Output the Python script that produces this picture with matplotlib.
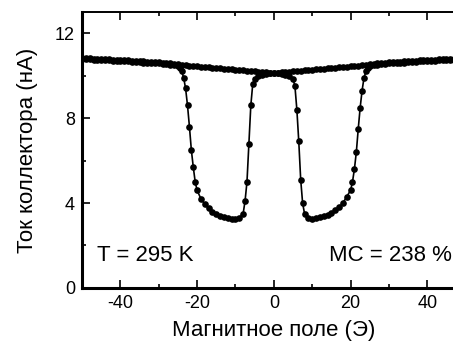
import matplotlib
matplotlib.use("Agg")
import matplotlib.pyplot as plt
from matplotlib.ticker import MultipleLocator

plt.rcParams['font.family'] = ['Liberation Sans', 'DejaVu Sans']
plt.rcParams['axes.unicode_minus'] = False

# sweep from +50 down to -50 Oe (dip on negative side)
field_down = [50, 49, 48, 47, 46, 45, 44, 43, 42, 41, 40, 39, 38, 37, 36, 35, 34, 33, 32, 31,
              30, 29, 28, 27, 26, 25, 24, 23, 22, 21, 20, 19, 18, 17, 16, 15, 14, 13, 12, 11,
              10, 9, 8, 7, 6, 5, 4, 3, 2, 1, 0, -1, -2, -3, -4, -5, -5.5, -6, -6.5, -7, -7.5,
              -8, -9, -10, -11, -12, -13, -14, -15, -16, -17, -18, -19, -20, -20.5, -21, -21.5,
              -22, -22.5, -23, -23.5, -24, -24.5, -25, -26, -27, -28, -29, -30, -31, -32, -33,
              -34, -35, -36, -37, -38, -39, -40, -41, -42, -43, -44, -45, -46, -47, -48, -49, -50]
current_down = [10.85, 10.83, 10.82, 10.81, 10.8, 10.79, 10.78, 10.77, 10.76, 10.75, 10.74, 10.73,
                10.72, 10.71, 10.7, 10.69, 10.67, 10.66, 10.65, 10.64, 10.63, 10.62, 10.6, 10.58,
                10.56, 10.54, 10.52, 10.5, 10.48, 10.46, 10.45, 10.43, 10.41, 10.4, 10.38, 10.36,
                10.35, 10.33, 10.32, 10.3, 10.28, 10.26, 10.25, 10.23, 10.22, 10.2, 10.18, 10.17,
                10.16, 10.15, 10.15, 10.12, 10.08, 10.05, 10.0, 9.85, 9.6, 8.6, 6.8, 5.0, 4.1,
                3.5, 3.3, 3.25, 3.25, 3.3, 3.35, 3.4, 3.5, 3.6, 3.75, 3.95, 4.2, 4.6, 5.0, 5.7,
                6.5, 7.6, 8.6, 9.4, 9.9, 10.2, 10.35, 10.45, 10.5, 10.52, 10.55, 10.56, 10.58,
                10.59, 10.6, 10.61, 10.62, 10.64, 10.65, 10.66, 10.67, 10.68, 10.69, 10.7, 10.71,
                10.72, 10.73, 10.74, 10.75, 10.76, 10.77, 10.78, 10.8]

# sweep from -50 up to +50 Oe (dip on positive side)
field_up = [-50, -49, -48, -47, -46, -45, -44, -43, -42, -41, -40, -39, -38, -37, -36, -35, -34,
            -33, -32, -31, -30, -29, -28, -27, -26, -25, -24, -23, -22, -21, -20, -19, -18, -17,
            -16, -15, -14, -13, -12, -11, -10, -9, -8, -7, -6, -5, -4, -3, -2, -1, 0, 1, 2, 3,
            4, 5, 5.5, 6, 6.5, 7, 7.5, 8, 9, 10, 11, 12, 13, 14, 15, 16, 17, 18, 19, 20, 20.5,
            21, 21.5, 22, 22.5, 23, 23.5, 24, 24.5, 25, 26, 27, 28, 29, 30, 31, 32, 33, 34, 35,
            36, 37, 38, 39, 40, 41, 42, 43, 44, 45, 46, 47, 48, 49, 50]
current_up = [10.85, 10.83, 10.82, 10.81, 10.8, 10.79, 10.78, 10.77, 10.76, 10.75, 10.74, 10.73,
              10.72, 10.71, 10.7, 10.69, 10.67, 10.66, 10.65, 10.64, 10.63, 10.62, 10.6, 10.58,
              10.56, 10.54, 10.52, 10.5, 10.48, 10.46, 10.45, 10.43, 10.41, 10.4, 10.38, 10.36,
              10.35, 10.33, 10.32, 10.3, 10.28, 10.26, 10.25, 10.23, 10.22, 10.2, 10.18, 10.17,
              10.16, 10.15, 10.15, 10.12, 10.08, 10.05, 10.0, 9.85, 9.5, 8.4, 6.9, 5.1, 4.0,
              3.5, 3.3, 3.25, 3.3, 3.35, 3.4, 3.45, 3.55, 3.65, 3.8, 4.0, 4.3, 4.6, 5.0, 5.6,
              6.4, 7.5, 8.5, 9.3, 9.9, 10.2, 10.35, 10.45, 10.5, 10.52, 10.55, 10.56, 10.58,
              10.59, 10.6, 10.61, 10.62, 10.64, 10.65, 10.66, 10.67, 10.68, 10.69, 10.7, 10.71,
              10.72, 10.73, 10.74, 10.75, 10.76, 10.77, 10.78, 10.8]

fig = plt.figure(figsize=(4.53, 3.44), dpi=100)
ax = fig.add_axes([0.181, 0.163, 0.847, 0.802])

for xs, ys in [(field_down, current_down), (field_up, current_up)]:
    ax.plot(xs, ys, color='black', lw=1.2, marker='o', ms=4.8, mew=0)

ax.set_xlim(-50, 50)
ax.set_ylim(0, 13)
ax.xaxis.set_minor_locator(MultipleLocator(10))
ax.yaxis.set_major_locator(MultipleLocator(4))
ax.yaxis.set_minor_locator(MultipleLocator(2))
ax.set_xticks([-40, -20, 0, 20, 40])
ax.tick_params(which='both', direction='in', top=True, right=False, labelsize=13, width=1.2)
ax.tick_params(which='major', length=6, pad=5)
ax.tick_params(which='minor', length=3)

for side in ['left', 'bottom']:
    ax.spines[side].set_linewidth(2.2)
ax.spines['top'].set_linewidth(1.4)
ax.spines['right'].set_visible(False)

ax.set_xlabel('Магнитное поле (Э)', fontsize=16, labelpad=6)
ax.set_ylabel('Ток коллектора (нА)', fontsize=16, labelpad=12)

ax.text(-46, 1.25, 'T = 295 K', fontsize=16)
ax.text(14.3, 1.25, 'MC = 238 %', fontsize=16)

fig.savefig('out.png', dpi=100)
